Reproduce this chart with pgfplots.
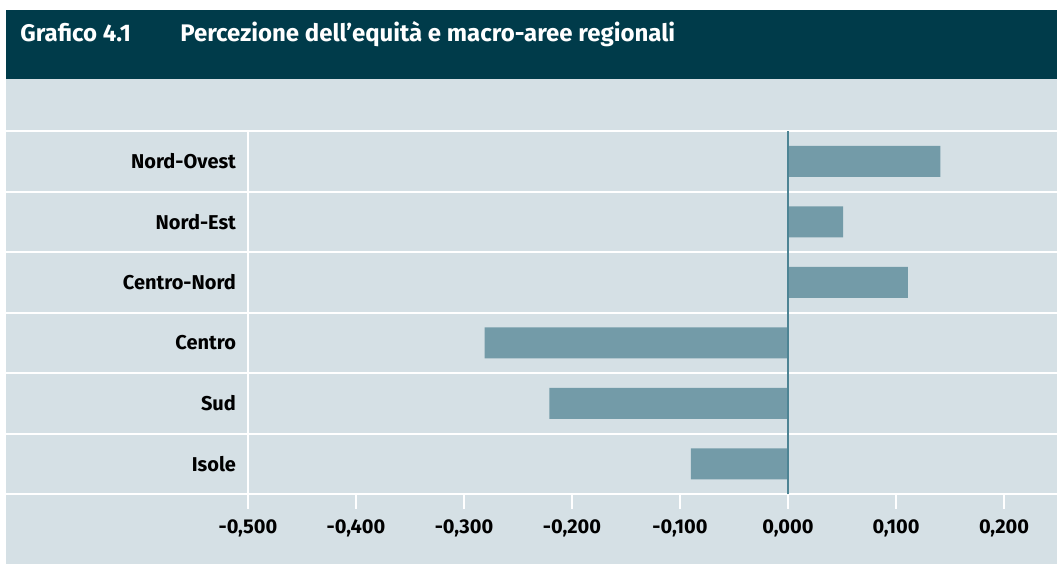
\documentclass[border=0pt]{standalone}
\usepackage{fontspec}
\setmainfont{Fira Sans}
\usepackage{pgfplots}
\pgfplotsset{compat=1.18}
\definecolor{titlebg}{HTML}{003B4A}
\definecolor{panel}{HTML}{D5E0E5}
\definecolor{barcol}{HTML}{739BA8}
\definecolor{zeroline}{HTML}{4D8494}

\begin{document}
\begin{tikzpicture}
% page: 1057 x 564 px, 1px = 0.5pt
\path[use as bounding box] (0,0) rectangle (528.5pt,-282pt);
\fill[titlebg] (3pt,-5pt) rectangle (528.5pt,-39.5pt);
\fill[panel] (3pt,-39.5pt) rectangle (528.5pt,-282pt);
\node[anchor=base west, inner sep=0pt, text=white,
      font=\bfseries\fontsize{12}{14}\selectfont] at (10pt,-20.5pt) {Grafico 4.1};
\node[anchor=base west, inner sep=0pt, text=white,
      font=\bfseries\fontsize{12}{14}\selectfont] at (90pt,-20.5pt)
      {Percezione dell’equità e macro-aree regionali};
% row separators run across the whole panel
\foreach \y in {131,191.5,252,312.5,373,433.5,494}
  \draw[white, line width=1pt] (3pt,{-0.5pt*\y}) -- (528.5pt,{-0.5pt*\y});

\begin{axis}[
  at={(124pt,-247pt)}, anchor=south west,
  width=378pt, height=181.5pt, scale only axis,
  xmin=-0.5, xmax=0.2, ymin=0.5, ymax=6.5,
  xbar, bar width=15.5pt,
  axis x line*=bottom, axis y line*=left,
  axis line style={white, line width=1pt},
  xtick={-0.5,-0.4,-0.3,-0.2,-0.1,0,0.1,0.2},
  ytick={1,2,3,4,5,6},
  yticklabels={Isole,Sud,Centro,Centro-Nord,Nord-Est,Nord-Ovest},
  tick align=outside, major tick length=7.5pt,
  xtick style={white, line width=1pt},
  ytick style={draw=none},
  xticklabel style={yshift=-2pt, /pgf/number format/.cd, fixed, fixed zerofill,
    precision=3, use comma, 1000 sep={}},
  yticklabel style={xshift=5pt},
  /pgf/number format/assume math mode=true,
  ticklabel style={font=\bfseries\fontsize{10}{12}\selectfont},
]
\addplot[fill=barcol, draw=none] coordinates {
  (-0.090,1) (-0.221,2) (-0.281,3) (0.111,4) (0.051,5) (0.141,6)};
\draw[zeroline, line width=1pt] (axis cs:0,0.5) -- (axis cs:0,6.5);
\end{axis}
\end{tikzpicture}
\end{document}
